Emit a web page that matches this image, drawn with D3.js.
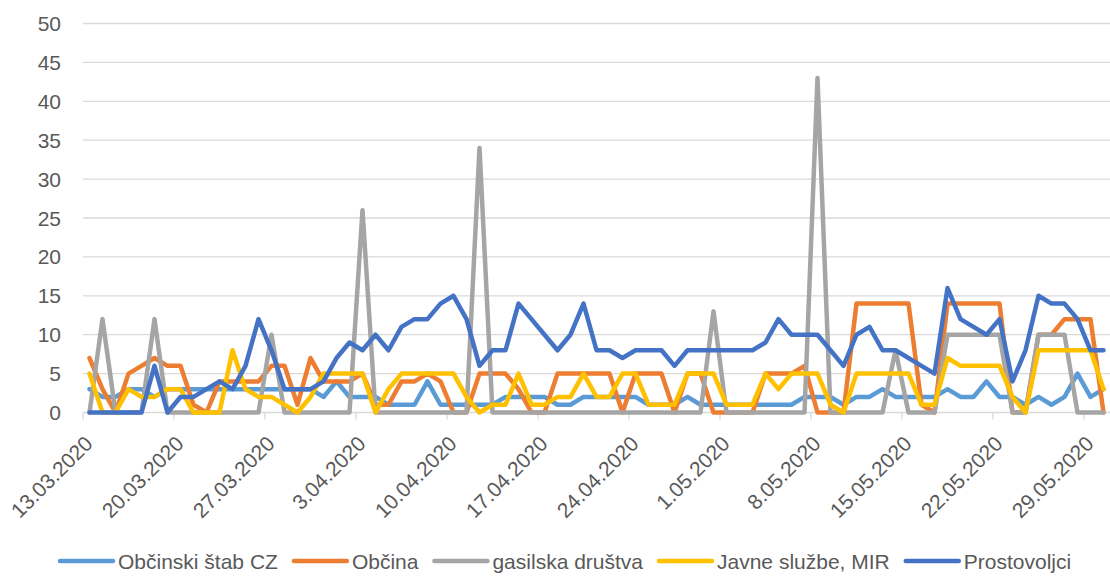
<!DOCTYPE html>
<html><head><meta charset="utf-8">
<script src="https://cdn.jsdelivr.net/npm/d3@7"></script>
<style>
body{margin:0;background:#fff}
text{font-family:"Liberation Sans",Arial,sans-serif;fill:#595959}
</style>
</head><body>
<svg id="c" width="1110" height="576"></svg>
<script>
const categories = [
"13.03.2020","14.03.2020","15.03.2020","16.03.2020","17.03.2020","18.03.2020","19.03.2020","20.03.2020","21.03.2020","22.03.2020",
"23.03.2020","24.03.2020","25.03.2020","26.03.2020","27.03.2020","28.03.2020","29.03.2020","30.03.2020","31.03.2020",
"1.04.2020","2.04.2020","3.04.2020","4.04.2020","5.04.2020","6.04.2020","7.04.2020","8.04.2020","9.04.2020","10.04.2020",
"11.04.2020","12.04.2020","13.04.2020","14.04.2020","15.04.2020","16.04.2020","17.04.2020","18.04.2020","19.04.2020","20.04.2020",
"21.04.2020","22.04.2020","23.04.2020","24.04.2020","25.04.2020","26.04.2020","27.04.2020","28.04.2020","29.04.2020","30.04.2020",
"1.05.2020","2.05.2020","3.05.2020","4.05.2020","5.05.2020","6.05.2020","7.05.2020","8.05.2020","9.05.2020","10.05.2020",
"11.05.2020","12.05.2020","13.05.2020","14.05.2020","15.05.2020","16.05.2020","17.05.2020","18.05.2020","19.05.2020","20.05.2020",
"21.05.2020","22.05.2020","23.05.2020","24.05.2020","25.05.2020","26.05.2020","27.05.2020","28.05.2020","29.05.2020","30.05.2020"];

const tickLabels = ["13.03.2020","20.03.2020","27.03.2020","3.04.2020","10.04.2020","17.04.2020","24.04.2020","1.05.2020","8.05.2020","15.05.2020","22.05.2020","29.05.2020"];
const yTicks = [0,5,10,15,20,25,30,35,40,45,50];

const seriesNames = ["Občinski štab CZ","Občina","gasilska društva","Javne službe, MIR","Prostovoljci"];

const stabCZ = [3,2,2,3,3,2,3,3,3,3, 3,3,3,3,3,3,3,3,2,4, 2,2,2,1,1,1,4,1,1,1, 1,1,2,2,2,2,1,1,2,2,
                2,2,2,1,1,1,2,1,1,1, 1,1,1,1,1,2,2,2,1,2, 2,3,2,2,2,2,3,2,2,4, 2,2,1,2,1,2,5,2,3];
const obcina = [7,3,0,5,6,7,6,6,1,0, 4,4,4,4,6,6,1,7,4,4, 4,5,1,1,4,4,5,4,0,0, 5,5,5,3,0,0,5,5,5,5,
                5,0,5,5,5,0,5,5,0,0, 0,0,5,5,5,6,0,0,0,14, 14,14,14,14,1,0,14,14,14,14, 14,0,0,10,10,12,12,12,0];
const gasilci = [0,12,0,0,0,12,0,0,0,0, 0,0,0,0,10,0,0,0,0,0, 0,26,0,0,0,0,0,0,0,0, 34,0,0,0,0,0,0,0,0,0,
                 0,0,0,0,0,0,0,0,13,0, 0,0,0,0,0,0,43,0,0,0, 0,0,8,0,0,0,10,10,10,10, 10,0,0,10,10,10,0,0,0];
const javneSluzbe = [5,0,0,3,2,2,3,3,0,0, 0,8,3,2,2,1,0,2,5,5, 5,5,0,3,5,5,5,5,5,2, 0,1,1,5,1,1,2,2,5,2,
                     2,5,5,1,1,1,5,5,5,1, 1,1,5,3,5,5,5,1,0,5, 5,5,5,5,1,1,7,6,6,6, 6,2,0,8,8,8,8,8,3];
const prostovoljci = [0,0,0,0,0,6,0,2,2,3, 4,3,6,12,8,3,3,3,4,7, 9,8,10,8,11,12,12,14,15,12, 6,8,8,14,12,10,8,10,14,8,
                      8,7,8,8,8,6,8,8,8,8, 8,8,9,12,10,10,10,8,6,10, 11,8,8,7,6,5,16,12,11,10, 12,4,8,15,14,14,12,8,8];

const seriesValues = [stabCZ, obcina, gasilci, javneSluzbe, prostovoljci];
const colors = ["#5B9BD5","#ED7D31","#A5A5A5","#FFC000","#4472C4"];

(function(){
const W = 1110, H = 576;
const mLeft = 83, mRight = 1110, mTop = 23.5, mBottom = 412.5;
const svg = d3.select("#c");
svg.append("rect").attr("width",W).attr("height",H).attr("fill","#fff");

const x = d3.scaleBand().domain(categories).range([mLeft, mRight]).padding(0);
const y = d3.scaleLinear().domain([0, 50]).range([mBottom, mTop]);
const cx = d => x(d) + x.bandwidth()/2;

// gridlines
svg.append("g").selectAll("line").data(yTicks.filter(v=>v>0)).join("line")
  .attr("x1", mLeft).attr("x2", mRight)
  .attr("y1", d=>y(d)).attr("y2", d=>y(d))
  .attr("stroke","#d9d9d9").attr("stroke-width",1.3);

// y labels
svg.append("g").selectAll("text").data(yTicks).join("text")
  .attr("x", 61).attr("y", d=>y(d)).attr("dy","0.36em")
  .attr("text-anchor","end").attr("font-size",21).text(d=>d);

// x axis line
svg.append("line").attr("x1",mLeft).attr("x2",mRight).attr("y1",y(0)).attr("y2",y(0))
  .attr("stroke","#d9d9d9").attr("stroke-width",1.3);
// ticks
svg.append("g").selectAll("line").data(tickLabels).join("line")
  .attr("x1", d=>x(d)).attr("x2", d=>x(d))
  .attr("y1", y(0)).attr("y2", y(0)+7)
  .attr("stroke","#d9d9d9").attr("stroke-width",1.3);
// tick labels
svg.append("g").selectAll("text").data(tickLabels).join("text")
  .attr("transform", d=>`translate(${cx(d)+4.5},445) rotate(-45)`)
  .attr("text-anchor","end").attr("font-size",21).text(d=>d);

// lines
const line = d3.line().x((v,i)=>cx(categories[i])).y(v=>y(v));
seriesValues.forEach((vals, k) => {
  svg.append("path").datum(vals)
    .attr("d", line)
    .attr("fill","none")
    .attr("stroke", colors[k])
    .attr("stroke-width", 4.5)
    .attr("stroke-linejoin","round")
    .attr("stroke-linecap","round");
});

// legend
const lg = svg.append("g");
let lx = 60;
const ly = 561;
seriesNames.forEach((name, k) => {
  lg.append("line").attr("x1", lx).attr("x2", lx+53).attr("y1", ly).attr("y2", ly)
    .attr("stroke", colors[k]).attr("stroke-width", 4.5).attr("stroke-linecap","round");
  const t = lg.append("text").attr("x", lx+58).attr("y", ly+7.5).attr("font-size",21).text(name);
  lx = lx + 58 + t.node().getComputedTextLength() + 16;
});
})();
</script>
</body></html>
